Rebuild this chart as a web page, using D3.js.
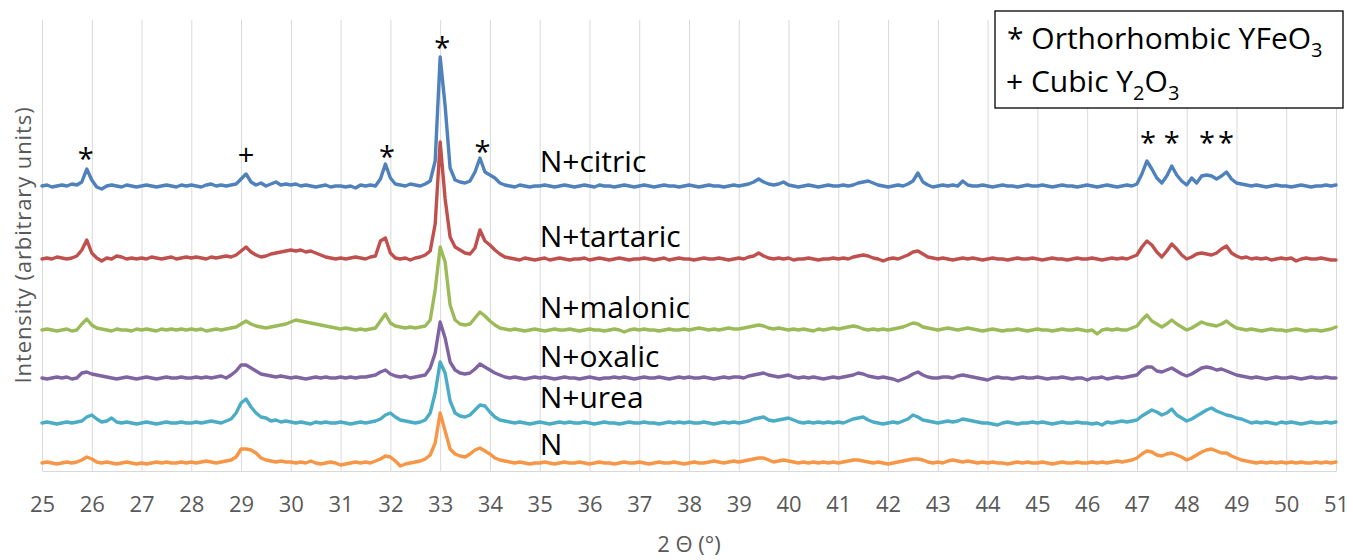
<!DOCTYPE html>
<html>
<head>
<meta charset="utf-8">
<script src="https://cdn.jsdelivr.net/npm/d3@7"></script>
<style>
  body { margin: 0; background: #fff; }
  svg { display: block; }
  text { font-family: "Open Sans", sans-serif; }
</style>
</head>
<body>
<svg id="chart" width="1353" height="560"></svg>
<script>
// Scan grid: 25.0° to 51.0° in 0.1° steps (261 points)
const thetaStart = 25, thetaStep = 0.1, thetaCount = 261;
const theta = d3.range(thetaCount).map(i => Math.round((thetaStart + i * thetaStep) * 10) / 10);

// Intensities above each pattern's own baseline (arbitrary units), one row per degree
const citric = [
  0,1,-1,0,1,0,2,1,4,17,
  6,-1,-3,0,1,0,-1,1,0,-1,
  0,1,0,-1,0,1,0,-1,1,0,
  1,0,-1,1,2,0,1,0,1,2,
  7,12,4,1,3,0,2,4,1,2,
  1,2,0,1,0,-1,0,1,-1,0,
  0,-1,0,-2,1,0,1,0,7,22,
  8,2,1,0,2,1,0,2,5,25,
  129,80,18,6,4,3,5,14,28,14,
  11,8,3,1,0,-1,1,0,-1,0,
  0,1,0,-1,0,1,0,-1,0,1,
  0,-1,1,0,0,-1,0,1,0,-1,
  0,1,0,-1,0,1,0,0,-1,0,
  1,0,-1,0,1,0,0,-1,0,1,
  0,1,2,4,7,4,2,1,2,4,
  1,0,-1,0,1,0,-1,0,1,0,
  0,1,0,1,3,4,5,3,1,0,
  -1,0,1,0,2,5,13,4,1,-1,
  0,1,0,1,0,5,1,0,0,1,
  0,-1,0,1,0,0,-1,0,1,0,
  0,1,0,-1,0,1,0,0,-1,0,
  1,0,-1,0,1,0,-1,0,1,0,
  2,12,25,17,8,3,10,20,11,5,
  1,8,3,10,11,10,7,10,14,7,
  3,2,1,0,1,0,-1,0,1,0,
  0,-1,0,1,0,-1,0,0,1,0,
  1
];
const tartaric = [
  0,1,0,2,1,0,1,3,9,19,
  6,1,-2,1,0,3,2,0,1,0,
  1,0,2,1,0,1,2,0,1,2,
  1,2,1,0,2,1,2,3,2,4,
  8,12,7,4,2,3,5,6,7,8,
  9,8,9,7,8,6,4,2,1,0,
  1,0,1,2,1,0,2,3,18,21,
  6,1,0,1,-1,1,2,4,8,35,
  117,60,22,12,9,6,5,11,29,18,
  14,9,5,2,1,0,-1,1,0,-1,
  0,1,-1,0,1,0,-1,0,0,1,
  -1,0,1,0,-1,0,1,0,-1,0,
  0,1,0,-1,0,1,-1,0,1,0,
  0,-1,0,1,0,0,1,0,-1,0,
  1,0,2,3,6,3,1,0,1,0,
  1,-1,0,0,1,0,-1,0,0,1,
  0,1,0,2,3,4,3,1,0,-2,
  0,1,0,2,4,7,8,5,2,1,
  0,1,0,-1,0,1,0,1,0,-1,
  0,1,0,0,-1,0,1,0,0,1,
  0,-1,0,1,0,0,-1,0,1,0,
  0,1,0,-1,0,1,0,1,0,2,
  4,12,18,14,7,2,8,15,10,4,
  0,2,5,6,5,4,6,10,13,6,
  3,1,2,0,1,0,1,-1,0,1,
  0,1,-2,0,1,0,0,1,0,-1,
  -1
];
const malonic = [
  0,1,0,-1,0,1,-1,0,6,11,
  5,2,1,0,-1,1,0,0,-1,1,
  0,1,0,-1,1,0,1,0,1,0,
  1,0,1,-1,0,1,0,1,2,3,
  6,9,6,4,3,2,3,4,5,6,
  8,10,9,8,7,6,5,4,3,2,
  1,2,1,0,1,0,1,2,9,16,
  7,4,3,2,3,2,3,4,10,40,
  83,68,25,10,6,5,6,12,18,14,
  9,5,2,1,0,1,0,-1,0,1,
  0,-1,0,1,0,0,1,0,-1,0,
  1,0,0,-1,0,1,0,-2,0,1,
  0,1,0,0,-1,0,1,0,0,1,
  0,1,2,1,0,1,0,1,2,1,
  1,2,3,4,5,4,2,1,2,1,
  0,1,0,1,0,-1,1,0,1,2,
  1,2,3,4,3,1,0,1,0,1,
  0,1,2,3,5,7,6,3,2,1,
  0,1,2,1,0,1,2,1,0,-1,
  0,1,0,-1,0,0,1,0,-1,0,
  1,0,0,-1,0,1,0,0,1,0,
  -1,0,-4,0,1,0,1,0,0,2,
  4,10,15,9,6,3,6,10,6,3,
  0,2,5,8,6,5,4,6,9,5,
  2,1,0,1,0,-1,0,1,0,0,
  -1,0,1,0,-1,0,0,-1,0,1,
  3
];
const oxalic = [
  0,-1,0,1,0,1,-1,0,5,6,
  4,3,2,1,0,-1,0,1,0,-1,
  0,1,0,-1,0,1,0,0,1,0,
  0,1,0,1,0,1,2,0,3,7,
  13,13,10,7,4,3,2,1,2,1,
  0,1,0,-1,0,1,0,1,0,0,
  1,0,1,0,1,1,2,3,6,8,
  4,2,1,2,0,1,2,3,10,25,
  56,40,16,8,5,4,5,9,14,11,
  8,5,3,1,0,1,0,-1,0,1,
  0,1,0,-1,0,1,0,0,-1,0,
  1,0,-1,0,0,1,0,1,0,-1,
  0,1,0,0,1,0,-1,0,1,0,
  1,0,0,1,0,-1,0,1,0,1,
  1,0,2,3,4,5,3,2,1,2,
  3,1,0,1,0,1,0,-1,0,1,
  0,1,2,3,5,4,2,1,0,1,
  0,-1,-3,-1,1,4,6,3,1,0,
  0,1,1,0,2,3,2,1,0,-1,
  -2,0,1,0,0,-1,0,1,0,0,
  1,0,-1,0,0,1,0,-1,0,0,
  -2,0,0,1,-1,0,1,0,1,2,
  3,8,11,11,7,6,8,10,7,4,
  2,4,7,10,11,10,8,9,7,5,
  3,2,1,0,1,0,-1,0,1,0,
  0,1,0,-1,0,1,0,0,1,0,
  0
];
const urea = [
  0,1,0,-1,0,1,0,1,2,6,
  8,4,1,2,5,1,0,1,0,-1,
  0,1,0,-1,0,1,0,0,1,0,
  0,1,0,1,2,1,0,2,4,10,
  20,24,16,10,6,5,2,3,1,2,
  1,0,1,0,-1,1,0,1,0,0,
  1,0,-1,0,1,0,1,2,4,8,
  10,6,3,2,1,0,1,3,10,30,
  61,50,22,10,7,6,8,13,18,17,
  11,6,3,2,1,0,1,0,-1,0,
  1,0,-1,0,1,0,1,0,0,1,
  0,-1,0,1,0,0,-1,0,1,0,
  0,1,0,0,-1,0,1,0,1,0,
  1,0,0,1,0,-1,0,1,0,1,
  0,1,2,4,5,6,3,2,3,4,
  5,3,1,0,1,0,1,0,1,0,
  1,0,2,4,5,6,3,1,0,-1,
  0,1,0,2,4,8,6,3,2,1,
  0,1,2,1,2,4,3,2,1,0,
  0,-1,-2,0,1,0,-1,0,0,1,
  0,1,0,-1,0,1,0,0,1,0,
  0,-1,0,-2,1,0,1,2,1,2,
  3,7,10,13,11,8,10,14,8,5,
  2,4,7,10,13,15,12,10,8,7,
  5,4,2,0,1,0,1,0,-1,1,
  0,1,0,-1,0,1,0,0,1,0,
  1
];
const nitrate = [
  0,1,0,-1,0,1,0,1,3,6,
  4,1,0,1,0,-1,0,1,0,-1,
  0,-1,0,1,0,1,0,0,1,0,
  1,0,1,2,1,0,1,2,3,6,
  14,14,13,10,5,3,2,1,2,1,
  1,0,1,0,2,0,-1,0,1,0,
  -2,-1,0,1,0,1,0,2,4,7,
  6,2,-3,-1,0,1,2,4,8,20,
  50,32,14,9,7,6,9,13,15,12,
  9,5,3,2,1,0,1,0,-1,0,
  0,1,0,-1,0,1,0,0,1,0,
  -1,0,1,0,0,-1,0,1,0,0,
  1,0,-1,0,1,0,0,1,0,-1,
  0,1,0,0,1,2,1,0,1,2,
  1,2,3,4,5,5,3,1,2,3,
  2,1,0,1,0,1,0,1,0,1,
  0,1,2,3,3,2,1,0,1,0,
  -1,0,1,2,3,4,4,3,1,0,
  1,0,2,3,2,1,2,1,0,1,
  0,1,0,0,-1,0,1,0,1,0,
  0,1,0,-1,0,1,0,0,1,0,
  0,1,0,1,0,1,2,1,2,3,
  5,9,12,11,8,7,9,10,8,6,
  3,5,8,11,13,14,12,10,10,7,
  5,3,2,1,0,1,0,1,0,1,
  0,1,0,1,0,0,1,0,1,0,
  1
];

// Stacking offsets of each pattern (same arbitrary units)
const seriesNames = ["N+citric", "N+tartaric", "N+malonic", "N+oxalic", "N+urea", "N"];
const seriesValues = [citric, tartaric, malonic, oxalic, urea, nitrate];
const seriesOffsets = [285, 212, 141, 93, 48, 8];
const seriesColors = ["#4F81BD", "#C0504D", "#9BBB59", "#8064A2", "#4BACC6", "#F79646"];

// Axis ticks
const xTickValues = d3.range(25, 52);

// Reflection markers: 2θ position, symbol, level in intensity units
const markerTheta = [25.88, 29.10, 31.93, 33.04, 33.85, 47.22, 47.70, 48.41, 48.79];
const markerSymbol = ["*", "+", "*", "*", "*", "*", "*", "*", "*"];
const markerLevel = [302, 306, 304, 413, 309, 318, 318, 318, 318];

// ---------- drawing ----------
const svg = d3.select("#chart");
const plotLeft = 42, plotRight = 1336, plotTop = 20, plotBottom = 471;

const x = d3.scaleLinear().domain([25, 51]).range([plotLeft, plotRight]);
const y = d3.scaleLinear().domain([0, 451]).range([plotBottom, plotTop]);

// vertical gridlines
const grid = svg.append("g")
  .attr("transform", `translate(0,${plotBottom})`)
  .call(d3.axisBottom(x).tickValues(xTickValues).tickSize(-(plotBottom - plotTop)).tickFormat(""));
grid.select(".domain").remove();
grid.selectAll("line").attr("stroke", "#d9d9d9").attr("stroke-width", 1);

// x axis
const xAxis = svg.append("g")
  .attr("transform", `translate(0,${plotBottom})`)
  .call(d3.axisBottom(x).tickValues(xTickValues).tickSize(0).tickFormat(d3.format("d")));
xAxis.select(".domain").attr("stroke", "#d9d9d9").attr("stroke-width", 1.2);
xAxis.selectAll("text")
  .attr("y", 41).attr("dy", 0)
  .attr("fill", "#595959")
  .style("font-size", "22px")
  .style("font-family", "'Open Sans', sans-serif");

// axis titles
svg.append("text")
  .attr("x", (plotLeft + plotRight) / 2)
  .attr("y", 552)
  .attr("text-anchor", "middle")
  .attr("fill", "#595959")
  .style("font-size", "22px")
  .text("2 \u0398 (\u00B0)");

svg.append("text")
  .attr("transform", "translate(31,245) rotate(-90)")
  .attr("text-anchor", "middle")
  .attr("fill", "#595959")
  .style("font-size", "22px")
  .style("letter-spacing", "0.9px")
  .text("Intensity (arbitrary units)");

// diffraction patterns
const line = d3.line().curve(d3.curveLinear);
seriesValues.forEach((vals, s) => {
  line.x((d, i) => x(theta[i])).y(d => y(d + seriesOffsets[s]));
  svg.append("path")
    .datum(vals)
    .attr("fill", "none")
    .attr("stroke", seriesColors[s])
    .attr("stroke-width", 3.4)
    .attr("stroke-linejoin", "round")
    .attr("stroke-linecap", "round")
    .attr("d", line);
});

// pattern labels
const labelLift = [14, 12, 12, 11, 15, 8];
svg.append("g").selectAll("text")
  .data(seriesNames)
  .join("text")
  .attr("x", x(35))
  .attr("y", (d, i) => y(seriesOffsets[i]) - labelLift[i])
  .attr("fill", "#000")
  .style("font-size", "30px")
  .text(d => d);

// reflection markers
svg.append("g").selectAll("text")
  .data(markerTheta)
  .join("text")
  .attr("x", d => x(d))
  .attr("y", (d, i) => y(markerLevel[i]))
  .attr("text-anchor", "middle")
  .attr("fill", "#000")
  .style("font-size", "29px")
  .text((d, i) => markerSymbol[i]);

// phase key
const key = svg.append("g");
key.append("rect")
  .attr("x", 995).attr("y", 11).attr("width", 348).attr("height", 97)
  .attr("fill", "#fff").attr("stroke", "#000").attr("stroke-width", 1.3);
const k1 = key.append("text").attr("x", 1007).attr("y", 49).style("font-size", "30px").attr("fill", "#000");
k1.append("tspan").text("* Orthorhombic YFeO");
k1.append("tspan").attr("dy", 8).style("font-size", "20px").text("3");
const k2 = key.append("text").attr("x", 1006).attr("y", 92).style("font-size", "30px").attr("fill", "#000");
k2.append("tspan").text("+ Cubic Y");
k2.append("tspan").attr("dy", 8).style("font-size", "20px").text("2");
k2.append("tspan").attr("dy", -8).text("O");
k2.append("tspan").attr("dy", 8).style("font-size", "20px").text("3");
</script>
</body>
</html>
